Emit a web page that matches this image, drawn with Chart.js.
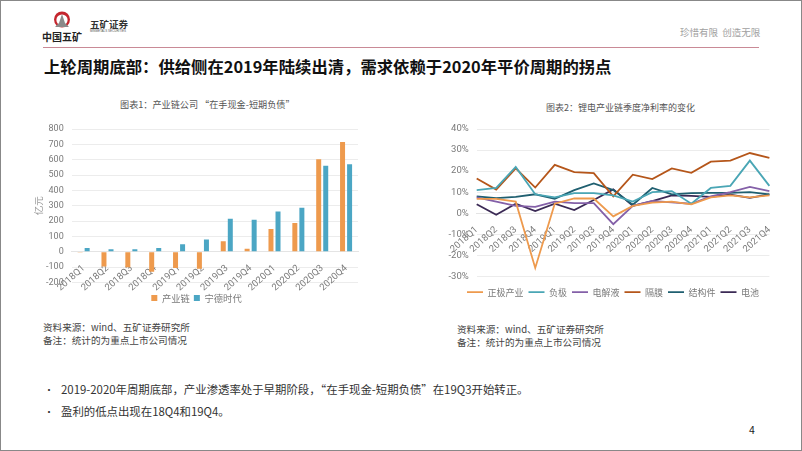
<!DOCTYPE html>
<html>
<head>
<meta charset="utf-8">
<script src="https://cdn.jsdelivr.net/npm/chart.js@4"></script>
<style>
  html, body { margin: 0; padding: 0; background: #fff; }
  body { position: relative; width: 802px; height: 451px; overflow: hidden; font-family: "Noto Sans CJK SC", sans-serif; }
  .abs { position: absolute; white-space: nowrap; }
  canvas { position: absolute; }
</style>
</head>
<body>
<div class="abs" style="left:0;top:0;width:802px;height:1px;background:#888"></div>
<div class="abs" style="left:0;top:450px;width:802px;height:1px;background:#888"></div>
<div class="abs" style="left:0;top:0;width:1px;height:451px;background:#888"></div>
<div class="abs" style="left:801px;top:0;width:1px;height:451px;background:#888"></div>

<svg class="abs" style="left:52px;top:10px" width="20" height="20" viewBox="0 0 20 20">
  <circle cx="10" cy="9.5" r="8" fill="#c4262e"/>
  <circle cx="10" cy="10" r="5.6" fill="#fff"/>
  <path d="M10 4 L13 13 L17 17 L3 17 L7 13 Z" fill="#8a8a8a"/>
</svg>
<div class="abs" style="left:42px;top:30px;font-size:10px;line-height:14px;font-weight:700;color:#222">中国五矿</div>
<div class="abs" style="left:90px;top:18px;font-size:9.5px;line-height:13px;font-weight:700;color:#333">五矿证券</div>
<div class="abs" style="left:90px;top:29px;font-size:3px;line-height:4px;color:#555;font-family:'Liberation Sans'">MINMETALS SECURITIES</div>
<div class="abs" style="left:680px;top:25px;font-size:9.5px;line-height:14px;color:#a0a0a0">珍惜有限&nbsp;&nbsp;创造无限</div>
<div class="abs" style="left:43px;top:47px;width:716px;height:1px;background:#c98a96"></div>
<div class="abs" style="left:44px;top:55px;font-size:16.35px;line-height:22px;font-weight:700;color:#111">上轮周期底部：供给侧在2019年陆续出清，需求依赖于2020年平价周期的拐点</div>

<div class="abs" style="left:120px;top:98px;font-size:9.15px;line-height:13px;color:#555">图表1：产业链公司 “在手现金-短期负债”</div>
<div class="abs" style="left:546px;top:101px;font-size:9px;line-height:13px;color:#555">图表2：锂电产业链季度净利率的变化</div>

<canvas id="chart1" style="left:30px;top:115px"></canvas>
<canvas id="chart2" style="left:430px;top:115px"></canvas>

<div class="abs" style="left:43px;top:321px;font-size:9.6px;line-height:13px;color:#444">资料来源：wind、五矿证券研究所<br>备注：统计的为重点上市公司情况</div>
<div class="abs" style="left:457px;top:323px;font-size:9.6px;line-height:13px;color:#444">资料来源：wind、五矿证券研究所<br>备注：统计的为重点上市公司情况</div>

<div class="abs" style="left:44px;top:382px;font-size:10px;line-height:15px;color:#333">•</div>
<div class="abs" style="left:61px;top:382px;font-size:11.4px;line-height:15px;color:#333">2019-2020年周期底部，产业渗透率处于早期阶段，“在手现金-短期负债”在19Q3开始转正。</div>
<div class="abs" style="left:44px;top:404px;font-size:10px;line-height:15px;color:#333">•</div>
<div class="abs" style="left:61px;top:404px;font-size:11.4px;line-height:15px;color:#333">盈利的低点出现在18Q4和19Q4。</div>
<div class="abs" style="left:749px;top:423px;font-size:10.5px;line-height:14px;color:#222">4</div>

<script>
const quarters1 = ['2018Q1','2018Q2','2018Q3','2018Q4','2019Q1','2019Q2','2019Q3','2019Q4','2020Q1','2020Q2','2020Q3','2020Q4'];
const chainValues = [-5,-95,-100,-130,-105,-110,68,20,148,188,603,715];
const catlValues = [25,17,17,25,50,80,215,208,263,287,560,570];

const quarters2 = ['2018Q1','2018Q2','2018Q3','2018Q4','2019Q1','2019Q2','2019Q3','2019Q4','2020Q1','2020Q2','2020Q3','2020Q4','2021Q1','2021Q2','2021Q3','2021Q4'];
const cathode = [6.8,6.8,5.5,-26,4.5,7,7,-1.5,3.5,5,5.5,4.2,7.5,8.5,7.5,8.5];
const anode = [11,12,22,9,7.5,9.5,9.5,8.5,5.5,10,10.5,4.5,12,13,25,13];
const electrolyte = [7.5,5.5,3.5,3,5.5,4.8,4.8,-5.2,3.5,5.8,5.2,4.5,8,10,12.5,10.5];
const separator = [16.5,11.2,21.3,12.2,23,19.5,19,8,18.3,16.2,21.3,19.2,24.5,25,28.6,26.3];
const structural = [8,7.2,7.8,9,6.8,11,14.2,11,4,12,9,9.5,9.7,9.7,10,9];
const battery = [4.3,-0.7,4.5,1,4.5,1.5,6.3,11.3,3.5,5.8,8.5,8.2,7.8,8.8,7.3,9];

const tickColor = '#7a7a7a';
const gridColor = '#ececec';
const cjk = '"Noto Sans CJK SC", sans-serif';

function sizeCanvas(id, w, h) {
  const el = document.getElementById(id);
  el.width = w;
  el.height = h;
  el.style.width = w + 'px';
  el.style.height = h + 'px';
  return el;
}

function xAxis() {
  return {
    position: { y: 0 },
    grid: { display: false },
    border: { color: '#e4e4e4' },
    ticks: { color: tickColor, font: { size: 9.5, family: 'Roboto' }, minRotation: 42, maxRotation: 42, autoSkip: false, padding: 3 }
  };
}

// empty legend title only pushes the legend items down from the plot
function legendGap(px) {
  return { display: true, text: '', font: { size: 1 }, padding: { top: 0, bottom: px } };
}

// legend sits left of the canvas centre in the original
function shiftLegend(dx) {
  return {
    id: 'shiftLegend',
    afterLayout(chart) {
      chart.legend.left += dx;
      chart.legend.right += dx;
    }
  };
}

new Chart(sizeCanvas('chart1', 340, 198), {
  type: 'bar',
  data: {
    labels: quarters1,
    datasets: [
      { label: '产业链', data: chainValues, backgroundColor: '#ee9a4d', barPercentage: 0.71, categoryPercentage: 0.59 },
      { label: '宁德时代', data: catlValues, backgroundColor: '#4ba6c4', barPercentage: 0.71, categoryPercentage: 0.59 }
    ]
  },
  plugins: [shiftLegend(2.5)],
  options: {
    responsive: false,
    animation: false,
    layout: { padding: { top: 14, right: 12, bottom: 0.3 } },
    plugins: {
      legend: {
        position: 'bottom',
        title: legendGap(5.7),
        labels: { color: tickColor, font: { size: 9.3, family: cjk }, boxWidth: 6, boxHeight: 6, padding: 4 }
      },
      tooltip: { enabled: false }
    },
    scales: {
      x: xAxis(),
      y: {
        min: -200, max: 800,
        afterFit(scale) { scale.width = 41.7; },
        title: { display: true, text: '亿元', color: '#999', font: { size: 9.5, family: cjk }, padding: { top: 3, bottom: 0 } },
        grid: { color: gridColor, drawTicks: false },
        border: { display: false },
        ticks: { stepSize: 100, color: tickColor, font: { size: 9, family: 'Roboto' }, padding: 8 }
      }
    }
  }
});

const lineStyle = { fill: false, tension: 0, pointRadius: 0, borderWidth: 1.8, pointStyle: 'line' };
new Chart(sizeCanvas('chart2', 350, 192), {
  type: 'line',
  data: {
    labels: quarters2,
    datasets: [
      { label: '正极产业', data: cathode, borderColor: '#ee9a4d', backgroundColor: '#ee9a4d', ...lineStyle },
      { label: '负极', data: anode, borderColor: '#4aa6b5', backgroundColor: '#4aa6b5', ...lineStyle },
      { label: '电解液', data: electrolyte, borderColor: '#8460a8', backgroundColor: '#8460a8', ...lineStyle },
      { label: '隔膜', data: separator, borderColor: '#b5561a', backgroundColor: '#b5561a', ...lineStyle },
      { label: '结构件', data: structural, borderColor: '#1f5f70', backgroundColor: '#1f5f70', ...lineStyle },
      { label: '电池', data: battery, borderColor: '#3b2a55', backgroundColor: '#3b2a55', ...lineStyle }
    ]
  },
  plugins: [shiftLegend(13)],
  options: {
    responsive: false,
    animation: false,
    layout: { padding: { top: 14, right: 10, bottom: 0.3 } },
    plugins: {
      legend: {
        position: 'bottom',
        title: legendGap(5.1),
        labels: { color: tickColor, font: { size: 9, family: cjk }, usePointStyle: true, pointStyleWidth: 16, padding: 5 }
      },
      tooltip: { enabled: false }
    },
    scales: {
      x: xAxis(),
      y: {
        min: -30, max: 40,
        afterFit(scale) { scale.width = 46.7; },
        grid: { color: gridColor, drawTicks: false },
        border: { display: false },
        ticks: { stepSize: 10, color: tickColor, font: { size: 9.5, family: 'Roboto' }, padding: 8, callback: v => v + '%' }
      }
    }
  }
});
</script>
</body>
</html>
